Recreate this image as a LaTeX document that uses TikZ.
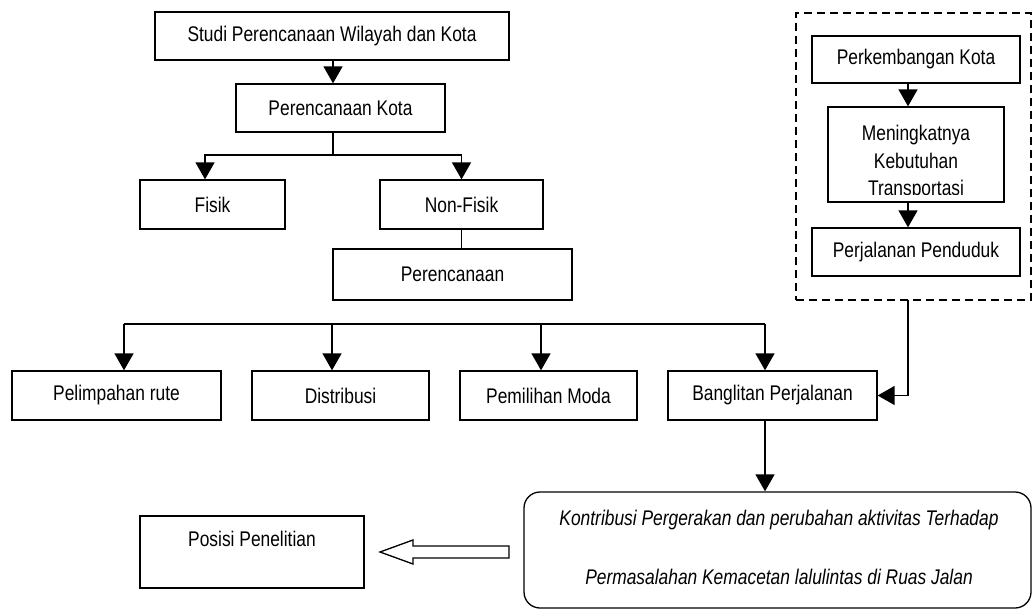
\documentclass[tikz,border=0pt]{standalone}
\usepackage{fontspec}
\setmainfont{Liberation Sans}[FakeStretch=0.82]
\usetikzlibrary{arrows.meta}
\tikzset{
  box/.style={draw, line width=1.3pt, inner sep=0pt, font=\fontsize{21.2}{25}\selectfont},
  conn/.style={line width=1.5pt},
  arr/.style={line width=1.5pt, -{Triangle[width=19pt,length=17pt]}},
  grpbox/.style={draw, dashed, dash pattern=on 8pt off 5pt, line width=1.3pt, inner sep=0pt},
  txt/.style={font=\fontsize{21.2}{25}\selectfont, inner sep=0pt},
  itxt/.style={font=\fontsize{21.2}{25}\selectfont\itshape, inner sep=0pt}
}
\begin{document}
\begin{tikzpicture}[x=1pt,y=-1pt]
\useasboundingbox (0,0) rectangle (1033,610);
% left tree
\node[box, minimum width=354pt, minimum height=48pt] (studi) at (332,36) {Studi Perencanaan Wilayah dan Kota};
\node[box, minimum width=209pt, minimum height=48pt] (pkota) at (340.5,108) {Perencanaan Kota};
\node[box, minimum width=145pt, minimum height=49pt] (fisik) at (212.5,204.5) {Fisik};
\node[box, minimum width=163pt, minimum height=49pt] (nonfisik) at (461.5,204.5) {Non-Fisik};
\node[box, minimum width=239pt, minimum height=51pt] (peren) at (452.5,274.5) {Perencanaan};
\node[box, minimum width=209pt, minimum height=49pt] (pr) at (116.5,395.5) {Pelimpahan rute};
\node[box, minimum width=177pt, minimum height=49pt] (dist) at (340.5,395.5) {Distribusi};
\node[box, minimum width=177pt, minimum height=49pt] (moda) at (548.5,395.5) {Pemilihan Moda};
\node[box, minimum width=209pt, minimum height=49pt] (bang) at (772.5,395.5) {Banglitan Perjalanan};
% right group
\node[grpbox, minimum width=235pt, minimum height=287pt] (grp) at (913.5,156.5) {};
\node[box, minimum width=208pt, minimum height=47pt] (pk) at (916,59.5) {Perkembangan Kota};
\node[box, minimum width=176pt, minimum height=95pt] (mening) at (916,154.5) {};
\begin{scope}
  \clip (mening.north west) rectangle ([yshift=8pt]mening.south east);
  \node[txt, align=center, font=\fontsize{21.2}{27.5}\selectfont] (meningtxt) at (916,163) {Meningkatnya\\Kebutuhan\\Transportasi};
\end{scope}
\node[box, minimum width=208pt, minimum height=48pt] (pp) at (916,252) {Perjalanan Penduduk};
% bottom
\node[box, rounded corners=16pt, minimum width=507pt, minimum height=116pt] (kontr) at (777.5,550) {};
\node[itxt] (k1) at (779,520) {Kontribusi Pergerakan dan perubahan aktivitas Terhadap};
\node[itxt] (k2) at (779,577) {Permasalahan Kemacetan lalulintas di Ruas Jalan};
\node[box, minimum width=224pt, minimum height=72pt] (posisi) at (252,552) {};
\node[txt] (posisitxt) at (252,539) {Posisi Penelitian};
% connectors
\draw[arr] ([xshift=1pt]studi.south) -- ([xshift=1pt]studi.south |- pkota.north);
\coordinate (j1) at (333,155);
\draw[conn] (j1 |- pkota.south) -- (j1);
\draw[arr] (j1) -| ([xshift=-7.5pt]fisik.north);
\draw[arr] (j1) -| (nonfisik.north);
\draw[conn] (nonfisik.south) -- (nonfisik.south |- peren.north);
\coordinate (ja) at (124,324);
\coordinate (jb) at (765,324);
\draw[conn] (ja) -- (jb);
\draw[arr] (ja) -- ([xshift=7.5pt]pr.north);
\draw[arr] (ja -| 332,0) -- ([xshift=-8.5pt]dist.north);
\draw[arr] (ja -| 541,0) -- ([xshift=-7.5pt]moda.north);
\draw[arr] (jb) -- ([xshift=-7.5pt]bang.north);
\draw[arr] ([xshift=-8pt]pk.south) -- ([xshift=-8pt]pk.south |- mening.north);
\draw[arr] ([xshift=-8pt]mening.south) -- ([xshift=-8pt]mening.south |- pp.north);
\coordinate (c1) at (908,300);
\draw[arr] (c1) |- (bang.east);
\draw[arr] ([xshift=-7.5pt]bang.south) -- ([xshift=-7.5pt]bang.south |- kontr.north);
% hollow arrow
\draw[line width=1.3pt] (509,546) -- (413,546) -- (413,540) -- (380,552) -- (413,564) -- (413,558) -- (509,558) -- cycle;
\end{tikzpicture}
\end{document}
